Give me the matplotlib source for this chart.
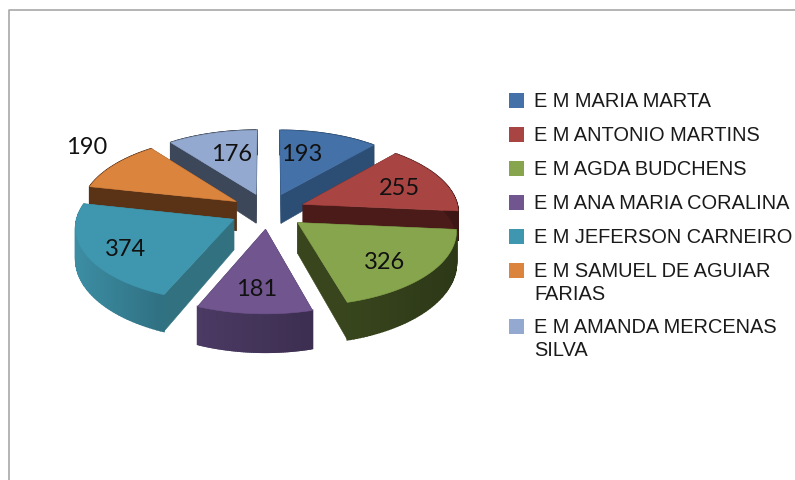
import numpy as np
import matplotlib
matplotlib.use("Agg")
import matplotlib.pyplot as plt
from matplotlib.patches import Polygon, Rectangle

# dados
escolas = ["E M MARIA MARTA", "E M ANTONIO MARTINS", "E M AGDA BUDCHENS",
           "E M ANA MARIA CORALINA", "E M JEFERSON CARNEIRO",
           "E M SAMUEL DE AGUIAR\nFARIAS", "E M AMANDA MERCENAS\nSILVA"]
valores = [193, 255, 326, 181, 374, 190, 176]

cores = ["#4471A7", "#A84543", "#87A54C", "#71558F", "#3F97AF", "#DB843D", "#93A9CF"]
cores_corte = ["#2D4E74", "#4A1B19", "#39451C", "#3A2A4C", "#32717F", "#5A3216", "#3C4759"]
cores_borda = ["#2D4E74", "#4A1B19", "#38461D", "#4B3A64", "#3C8DA3", "#5A3216", "#3C4759"]

# posicao dos rotulos em pixels
rotulos_xy = [(302, 155), (399, 189), (385, 263), (257, 290), (125, 250), (87, 148), (232, 155)]
legenda_y = [101, 135, 169, 203, 237, 271, 327]

# geometria da pizza 3D
CX, CY = 268, 212
RAIO = 155.5
EXPLODE = 38
K = 0.47
PERSP = 0.0006
ALTURA = 30


def projeta(X, Y):
    s = 1 / (1 - PERSP * Y)
    return CX + X * s, CY + K * Y * s, ALTURA * s ** 2


def escurece(cor, f):
    return tuple(np.array(matplotlib.colors.to_rgb(cor)) * f)


fig = plt.figure(figsize=(7.95, 4.81), dpi=100)
ax = fig.add_axes([0, 0, 1, 1])
ax.set_xlim(0, 795)
ax.set_ylim(481, 0)
ax.axis("off")

# moldura (so topo e esquerda aparecem)
ax.plot([8.5, 8.5, 795], [481, 10.5, 10.5], color="#A8A8A8", lw=1.2, zorder=1)

total = sum(valores)
limites = np.radians(np.cumsum([0] + valores) / total * 360)

fatias = []
for i in range(len(valores)):
    t0, t1 = limites[i], limites[i + 1]
    meio = (t0 + t1) / 2
    ax0, ay0 = EXPLODE * np.sin(meio), -EXPLODE * np.cos(meio)
    fatias.append((ay0, i, t0, t1, ax0))

# desenha de tras para frente
z = 2
for ay0, i, t0, t1, ax0 in sorted(fatias):
    ang = np.linspace(t0, t1, 60)
    X = ax0 + RAIO * np.sin(ang)
    Y = ay0 - RAIO * np.cos(ang)
    px, py, pd = projeta(X, Y)
    qx, qy, qd = projeta(ax0, ay0)

    faces = []
    for ex, ey, ed, ym in [(px[0], py[0], pd[0], Y[0]), (px[-1], py[-1], pd[-1], Y[-1])]:
        faces.append(((ym + ay0) / 2, "corte", [(qx, qy), (ex, ey), (ex, ey + ed), (qx, qy + qd)]))
    faces.append((Y.max(), "borda", None))

    for _, tipo, pts in sorted(faces, key=lambda f: f[0]):
        if tipo == "corte":
            ax.add_patch(Polygon(pts, closed=True, fc=cores_corte[i], ec=cores_corte[i], lw=0.4, zorder=z))
        else:
            # gradiente na lateral, faixas sobrepostas para nao aparecer emenda
            xmin, xmax = px.min(), px.max()
            for j in range(len(ang) - 1):
                f = 1.0 - 0.2 * ((px[j] - xmin) / (xmax - xmin))
                c = escurece(cores_borda[i], f)
                pts2 = [(px[j], py[j]), (px[j + 1], py[j + 1]),
                        (px[j + 1], py[j + 1] + pd[j + 1]), (px[j], py[j] + pd[j])]
                ax.add_patch(Polygon(pts2, closed=True, fc=c, ec=c, lw=1.2, zorder=z))
                z += 1
        z += 1

    topo = [(qx, qy)] + list(zip(px, py))
    ax.add_patch(Polygon(topo, closed=True, fc=cores[i], ec=cores[i], lw=0.4, zorder=z))
    z += 1

# rotulos de valor
for v, (lx, ly) in zip(valores, rotulos_xy):
    ax.text(lx, ly, str(v), ha="center", va="center", fontsize=17, family="Lato",
            color="#111111", zorder=z + 1)

# legenda
for nome, cor, ly in zip(escolas, cores, legenda_y):
    ax.add_patch(Rectangle((508.5, ly - 7.5), 15, 15, fc=cor, ec="none", zorder=z))
    ax.text(534, ly + 6, nome.split("\n")[0], ha="left", va="baseline", fontsize=14.4,
            family="Liberation Sans", color="#1A1A1A", zorder=z)
    if "\n" in nome:
        ax.text(534, ly + 29, nome.split("\n")[1], ha="left", va="baseline", fontsize=14.4,
                family="Liberation Sans", color="#1A1A1A", zorder=z)

fig.savefig("out.png", dpi=100)
